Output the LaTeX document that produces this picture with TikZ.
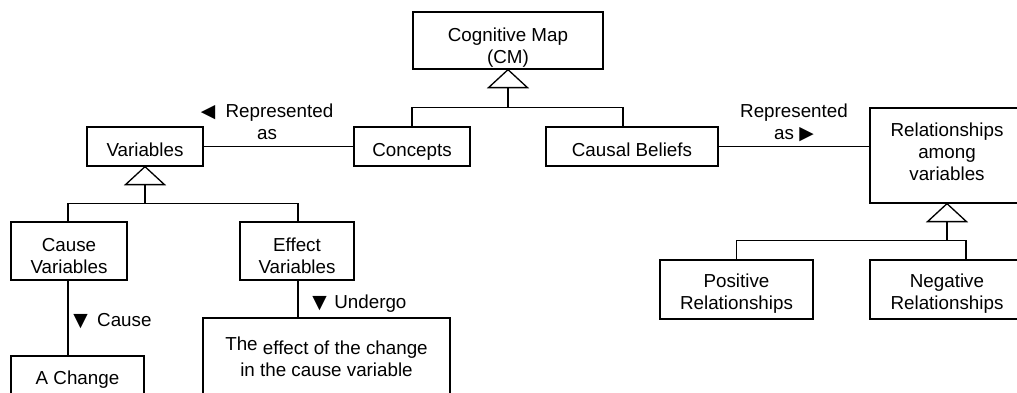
\documentclass[tikz,border=0pt]{standalone}
\usepackage{fontspec}
\setmainfont{Liberation Sans}
\newfontfamily\symfont{DejaVu Sans}
\usetikzlibrary{calc}

\tikzset{
  box/.style={draw, line width=0.75pt, inner sep=2pt,
    font=\fontsize{10.7pt}{12.5pt}\selectfont},
  lbl/.style={align=center, inner sep=0pt,
    font=\fontsize{10.7pt}{12.5pt}\selectfont},
  link/.style={line width=0.75pt},
  gen/.style={line width=0.75pt, fill=white}
}
% centred text block, shifted down by #1 without changing the box size
\newcommand{\dn}[2]{\raisebox{-#1}[\height][\depth]{\begin{tabular}{@{}c@{}}#2\end{tabular}}}
% hollow generalisation triangle hanging below a node anchor
\newcommand{\gentri}[2]{%
  \draw[gen] (#1) -- ++(-19.5,18) -- ++(39,0) -- cycle;
  \coordinate (#2) at ($(#1)+(0,18)$);}

\begin{document}
\begin{tikzpicture}[x=0.02cm, y=-0.02cm]
\useasboundingbox (0,0) rectangle (1017,392);
\clip (0,0) rectangle (1017,392);

% boxes
\node[box, minimum width=3.8cm,  minimum height=1.14cm] (cm)        at (508,40.5)  {\dn{4.3pt}{Cognitive Map\\(CM)}};
\node[box, minimum width=2.32cm, minimum height=0.78cm] (concepts)  at (412,146.5) {\dn{3pt}{Concepts}};
\node[box, minimum width=3.44cm, minimum height=0.78cm] (beliefs)   at (632,146.5) {\dn{3pt}{Causal Beliefs}};
\node[box, minimum width=2.32cm, minimum height=0.78cm] (variables) at (145,146.5) {\dn{3pt}{Variables}};
\node[box, minimum width=3.08cm, minimum height=1.9cm]  (relations) at (947,155.5) {\dn{-0.6pt}{Relationships\\among\\variables}};
\node[box, minimum width=2.32cm, minimum height=1.16cm] (cause)     at (69,251)    {\dn{3.8pt}{Cause\\Variables}};
\node[box, minimum width=2.28cm, minimum height=1.16cm] (effect)    at (297,251)   {\dn{3.8pt}{Effect\\Variables}};
\node[box, minimum width=2.66cm, minimum height=0.88cm] (change)    at (77.5,378)  {\dn{1pt}{A Change}};
\node[box, minimum width=4.94cm, minimum height=1.64cm] (effectof)  at (326.5,359) {\dn{0.5pt}{\raisebox{2pt}{The} effect of the change\\in the cause variable}};
\node[box, minimum width=3.06cm, minimum height=1.18cm] (positive)  at (736.5,289.5) {\dn{2.5pt}{Positive\\Relationships}};
\node[box, minimum width=3.08cm, minimum height=1.18cm] (negative)  at (947,289.5) {\dn{2.5pt}{Negative\\Relationships}};

% association labels
\node[lbl] (leftlbl)  at (267,122) {{\symfont ◀}\hspace{0.55em}Represented\\as};
\node[lbl] (rightlbl) at (794,122.5) {Represented\\as {\symfont ▶}};
\node[lbl, anchor=west] (causelbl)   at (73,321.5)  {{\symfont ▼}\hspace{0.5em}Cause};
\node[lbl, anchor=west] (undergolbl) at (312,303.5) {{\symfont ▼}\hspace{0.4em}Undergo};

% Cognitive Map generalisation
\gentri{cm.south}{cmbase}
\coordinate (cmbar) at ($(cmbase)+(0,20)$);
\draw[link] (cmbase) -- (cmbar);
\draw[link] (concepts.north) |- (cmbar) -| ($(beliefs.north)+(-9,0)$);

% Variables generalisation
\gentri{variables.south}{varbase}
\coordinate (varbar) at ($(varbase)+(0,19)$);
\draw[link] (varbase) -- (varbar);
\draw[link] ($(cause.north)+(-1,0)$) |- (varbar) -| ($(effect.north)+(1,0)$);

% Relationships generalisation
\gentri{relations.south}{relbase}
\coordinate (relbar) at ($(relbase)+(0,19)$);
\draw[link] (relbase) -- (relbar);
\draw[link] (positive.north) |- (relbar) -| ($(negative.north)+(19,0)$);

% associations
\draw[link] (variables.east) -- (concepts.west);
\draw[link] (beliefs.east) -- (relations.west |- beliefs.east);
\draw[link] ($(cause.south)+(-1,0)$) -- ($(cause.south |- change.north)+(-1,0)$);
\draw[link] ($(effect.south)+(1,0)$) -- ($(effect.south |- effectof.north)+(1,0)$);
\end{tikzpicture}
\end{document}
